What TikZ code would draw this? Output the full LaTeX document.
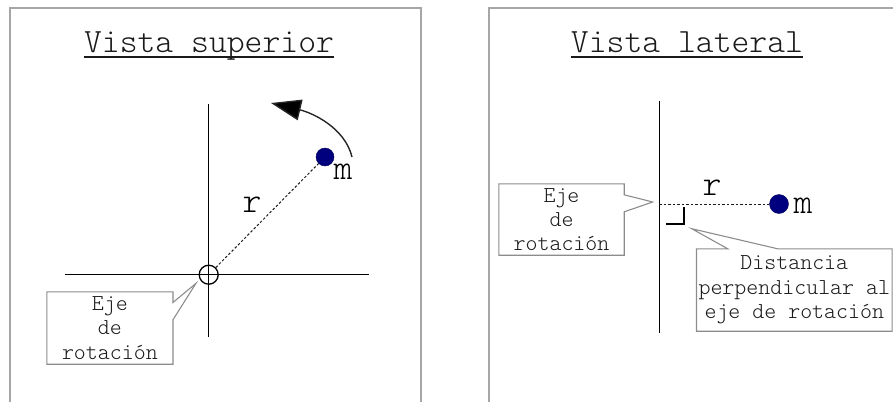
\documentclass[tikz,border=0pt]{standalone}
\usepackage{fontspec}
\newfontfamily\lightmono{Latin Modern Mono Light}
\usepackage{xcolor}
\usepackage{tikz}
\usetikzlibrary{arrows.meta,calc}

\definecolor{framegray}{HTML}{A6A6A6}
\definecolor{boxgray}{HTML}{8C8C8C}
\definecolor{inkgray}{HTML}{1A1A1A}
\definecolor{massblue}{HTML}{00007F}

\begin{document}
\begin{tikzpicture}[
  x=1pt, y=-1pt,
  font=\lightmono,
  frame/.style={draw=framegray, line width=1.2pt},
  heading/.style={
    anchor=base,
    inner sep=0pt,
    text=inkgray,
    font=\lightmono\fontsize{34}{40}\selectfont
  },
  uline/.style={draw=inkgray, line width=1.8pt},
  axis/.style={draw=black, line width=1.2pt},
  mass/.style={circle, fill=massblue, draw=massblue!70!black, inner sep=0pt, minimum size=18pt},
  radius/.style={draw=inkgray, line width=1pt, dash pattern=on 2.5pt off 2pt},
  sym/.style={anchor=base, inner sep=0pt, text=black, font=\lightmono\fontsize{36}{40}\selectfont},
  callbox/.style={
    align=center,
    inner sep=0pt,
    text=inkgray,
    font=\lightmono\fontsize{22.8}{24.3}\selectfont
  },
  callout/.style={draw=boxgray, line width=1.1pt, line join=miter},
  turn/.style={draw=black!85, line width=1.4pt, -{Triangle[length=30pt,width=21pt,fill=black]}}
]
  \useasboundingbox (0,0) rectangle (893,402);

  % vista superior
  \draw[frame] (10,402) -- (10,8) -- (421,8) -- (421,402);
  \node[heading] (supTitle) at (209,52.5) {Vista superior};
  \draw[uline] ($(supTitle.base west)+(0,4.5)$) -- ($(supTitle.base east)+(0,4.5)$);
  \coordinate (axS) at (208.7,274.7);
  \draw[axis] ($(axS)+(-143.7,0)$) -- ($(axS)+(160.3,0)$);
  \draw[axis] ($(axS)+(0,-170.7)$) -- ($(axS)+(0,62.3)$);
  \node[circle, draw, line width=1.3pt, minimum size=19pt, inner sep=0pt] (ejeS) at (axS) {};
  \node[mass] (mS) at (325,157) {};
  \draw[radius] (ejeS) -- (mS);
  \node[sym] (mSlbl) at (343,179) {m};
  \node[sym] (rS) at (252,212) {r};
  \coordinate (turnA) at (352,157);
  \coordinate (turnB) at (271,103);
  \draw[turn] (turnA) .. controls (345,128) and (313,113) .. (turnB);
  \node[callbox, minimum width=125.7pt, minimum height=72pt] (ejeSbox) at (109.9,328) {Eje\\de\\rotación};
  \coordinate (ejeStip) at ($(ejeS.center)+(-12.7,8.6)$);
  \draw[callout] (ejeSbox.north east) -- (ejeSbox.north west) -- (ejeSbox.south west)
    -- (ejeSbox.south east) -- ($(ejeSbox.north east)+(0,28)$) -- (ejeStip)
    -- ($(ejeSbox.north east)+(0,10.7)$) -- cycle;

  % vista lateral
  \draw[frame] (489,402) -- (489,8) -- (893,8);
  \node[heading] (latTitle) at (687,52.5) {Vista lateral};
  \draw[uline] ($(latTitle.base west)+(0,4.5)$) -- ($(latTitle.base east)+(0,4.5)$);
  \coordinate (ejeL) at (659.3,204);
  \draw[axis] ($(ejeL)+(0,-103)$) -- ($(ejeL)+(0,129)$);
  \node[mass, minimum size=19pt] (mL) at (779,204) {};
  \draw[radius] (ejeL) -- (mL);
  \node[sym] (mLlbl) at (803,213) {m};
  \node[sym] (rL) at (712,195) {r};
  \coordinate (perp) at ($(ejeL)+(24.7,20)$);
  \draw[axis] ($(ejeL)+(24.7,3)$) -- (perp) -- ($(ejeL)+(6.7,20)$);
  \node[callbox, minimum width=125pt, minimum height=71pt] (ejeLbox) at (561.5,219.5) {Eje\\de\\rotación};
  \coordinate (ejeLtip) at ($(ejeL)+(-6.6,-2)$);
  \draw[callout] (ejeLbox.north east) -- (ejeLbox.north west) -- (ejeLbox.south west)
    -- (ejeLbox.south east) -- ($(ejeLbox.north east)+(0,28)$) -- (ejeLtip)
    -- ($(ejeLbox.north east)+(0,11)$) -- cycle;
  \node[callbox, minimum width=195.3pt, minimum height=82pt] (distBox) at (794.3,290) {Distancia\\perpendicular al\\eje de rotación};
  \coordinate (distTip) at ($(perp)+(7.7,4.7)$);
  \draw[callout] (distBox.north west) -- ($(distBox.north west)+(31.3,0)$) -- (distTip)
    -- ($(distBox.north west)+(81.3,0)$) -- (distBox.north east) -- (distBox.south east)
    -- (distBox.south west) -- cycle;
\end{tikzpicture}
\end{document}
